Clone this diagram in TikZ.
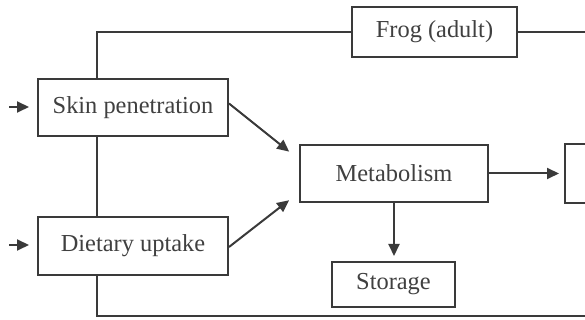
\documentclass[tikz,border=0pt]{standalone}
\usepackage{fontspec}
\setmainfont{Liberation Serif}
\usetikzlibrary{arrows.meta,calc}
\definecolor{ink}{HTML}{3A3A3A}
\definecolor{txt}{HTML}{404040}
\begin{document}
\begin{tikzpicture}[x=0.5pt,y=-0.5pt,
  box/.style={draw=ink,line width=1pt,fill=white,text=txt,inner sep=0pt,
    font=\fontsize{12.2pt}{14pt}\selectfont},
  line/.style={draw=ink,line width=1pt},
  arr/.style={line,-{Triangle[length=6pt,width=5.5pt]}}]
\useasboundingbox (0,0) rectangle (585,320);
\clip (0,0) rectangle (585,320);
\node[box,minimum width=82.5pt,minimum height=25pt] (frog) at (434.5,32) {Frog (adult)};
\node[box,minimum width=95pt,minimum height=28.5pt] (skin) at (133,107.5) {Skin penetration};
\node[box,minimum width=95pt,minimum height=29pt] (diet) at (133,246) {Dietary uptake};
\node[box,minimum width=94pt,minimum height=28.5pt] (metab) at (394,173.5) {Metabolism};
\node[box,minimum width=61.5pt,minimum height=22.5pt] (store) at (393.5,284.5) {Storage};
\node[box,minimum width=50pt,minimum height=29.5pt] (right) at (615,173.5) {};
\coordinate (in1) at (9,107);
\coordinate (in2) at (9,245);
\coordinate (re1) at (600,32);
\coordinate (re2) at (600,316);
% feedback / frame lines
\draw[line] ($(skin.north west)+(60,0)$) |- (frog.west);
\draw[line] (frog.east) -- (re1);
\draw[line] ($(skin.south west)+(60,0)$) -- ($(diet.north west)+(60,0)$);
\draw[line] ($(diet.south west)+(60,0)$) |- (re2);
% arrows
\draw[arr,shorten >=4pt] (in1) -- (in1 -| skin.west);
\draw[arr,shorten >=4pt] (in2) -- (in2 -| diet.west);
\draw[arr,shorten >=6.3pt] ($(skin.east)+(0,-4)$) -- ($(metab.west)+(0,-14)$);
\draw[arr,shorten >=6.3pt] ($(diet.east)+(0,1)$) -- ($(metab.west)+(0,19)$);
\draw[arr,shorten >=2.5pt] (metab.east) -- (right.west);
\draw[arr,shorten >=2.5pt] (metab.south) -- (metab.south |- store.north);
\end{tikzpicture}
\end{document}
